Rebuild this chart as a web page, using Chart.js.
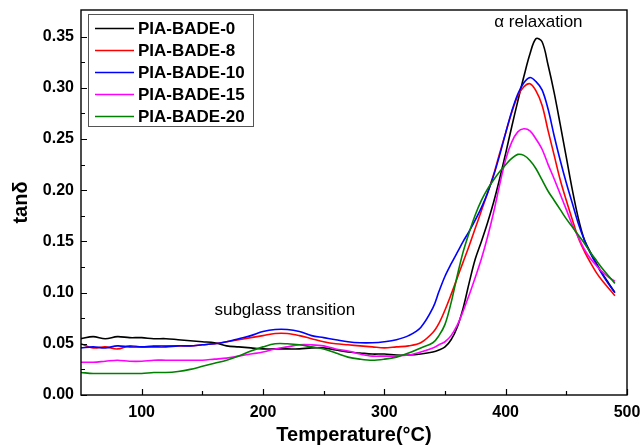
<!DOCTYPE html>
<html>
<head>
<meta charset="utf-8">
<style>
  body { margin: 0; background: #fff; }
  #wrap { width: 644px; height: 447px; }
</style>
</head>
<body>
<script src="https://cdn.jsdelivr.net/npm/chart.js@4.4.0/dist/chart.umd.min.js"></script>
<div id="wrap"><canvas id="dmaChart"></canvas></div>
<script>
  // temperature grid (degC), finer over the alpha peak
  const temps = [
    50, 60, 70, 80, 90, 100, 110, 120, 130, 140,
    150, 160, 170, 180, 190, 200, 210, 220, 230, 240,
    250, 260, 270, 280, 290, 300, 310, 320, 330, 340,
    345, 350, 355, 360, 365, 370, 375, 380, 385, 390,
    395, 400, 405, 410, 415, 420, 425, 430, 435, 440,
    445, 450, 455, 460, 465, 470, 475, 480, 485, 490
  ];

  const seriesNames = ["PIA-BADE-0", "PIA-BADE-8", "PIA-BADE-10", "PIA-BADE-15", "PIA-BADE-20"];
  const seriesColors = ["#000000", "#ff0000", "#0000ff", "#ff00ff", "#008000"];

  const tanD0 = [
    0.055, 0.057, 0.055, 0.057, 0.056, 0.056, 0.055, 0.055, 0.054, 0.053,
    0.052, 0.051, 0.048, 0.047, 0.046, 0.045, 0.045, 0.045, 0.045, 0.046,
    0.046, 0.044, 0.042, 0.041, 0.040, 0.040, 0.039, 0.039, 0.040, 0.042,
    0.044, 0.047, 0.054, 0.066, 0.085, 0.110, 0.133, 0.150, 0.168, 0.188,
    0.211, 0.236, 0.262, 0.287, 0.311, 0.333, 0.348, 0.345, 0.322, 0.295,
    0.264, 0.232, 0.200, 0.172, 0.151, 0.139, 0.128, 0.118, 0.109, 0.100
  ];
  const tanD8 = [
    0.050, 0.046, 0.047, 0.045, 0.048, 0.047, 0.048, 0.048, 0.048, 0.048,
    0.049, 0.050, 0.052, 0.054, 0.056, 0.058, 0.060, 0.060, 0.058, 0.055,
    0.052, 0.050, 0.049, 0.048, 0.047, 0.046, 0.047, 0.048, 0.051, 0.061,
    0.070, 0.083, 0.098, 0.114, 0.130, 0.146, 0.163, 0.180, 0.197, 0.215,
    0.236, 0.256, 0.276, 0.292, 0.301, 0.304, 0.297, 0.283, 0.258, 0.234,
    0.210, 0.190, 0.171, 0.153, 0.140, 0.129, 0.119, 0.111, 0.104, 0.097
  ];
  const tanD10 = [
    0.046, 0.047, 0.046, 0.048, 0.047, 0.047, 0.047, 0.047, 0.048, 0.048,
    0.049, 0.050, 0.052, 0.055, 0.058, 0.062, 0.064, 0.064, 0.062, 0.058,
    0.056, 0.054, 0.052, 0.051, 0.051, 0.052, 0.054, 0.058, 0.066, 0.085,
    0.101, 0.116, 0.128, 0.139, 0.150, 0.160, 0.171, 0.183, 0.197, 0.214,
    0.234, 0.256, 0.277, 0.294, 0.305, 0.310, 0.306, 0.298, 0.279, 0.253,
    0.229, 0.207, 0.187, 0.167, 0.151, 0.138, 0.127, 0.117, 0.108, 0.100
  ];
  const tanD15 = [
    0.032, 0.032, 0.033, 0.034, 0.033, 0.033, 0.034, 0.034, 0.034, 0.034,
    0.034, 0.035, 0.036, 0.038, 0.040, 0.042, 0.045, 0.047, 0.049, 0.049,
    0.048, 0.045, 0.043, 0.040, 0.038, 0.038, 0.038, 0.039, 0.042, 0.046,
    0.049, 0.052, 0.058, 0.068, 0.082, 0.098, 0.115, 0.133, 0.154, 0.178,
    0.205, 0.230, 0.247, 0.257, 0.260, 0.258, 0.250, 0.240, 0.225, 0.211,
    0.196, 0.181, 0.166, 0.154, 0.142, 0.133, 0.126, 0.120, 0.115, 0.111
  ];
  const tanD20 = [
    0.022, 0.021, 0.021, 0.021, 0.021, 0.021, 0.022, 0.022, 0.023, 0.025,
    0.028, 0.031, 0.034, 0.038, 0.043, 0.047, 0.050, 0.050, 0.049, 0.047,
    0.045, 0.041, 0.037, 0.035, 0.034, 0.035, 0.037, 0.041, 0.046, 0.051,
    0.058, 0.069, 0.090, 0.116, 0.140, 0.159, 0.176, 0.190, 0.201, 0.210,
    0.218, 0.225, 0.231, 0.235, 0.234, 0.229, 0.221, 0.210, 0.199, 0.190,
    0.181, 0.172, 0.164, 0.156, 0.148, 0.139, 0.131, 0.123, 0.116, 0.109
  ];

  // axis ticks
  const xTicks = [100, 200, 300, 400, 500];
  const xMinorTicks = [150, 250, 350, 450];
  const yTicks = [0, 0.05, 0.10, 0.15, 0.20, 0.25, 0.30, 0.35];
  const yMinorTicks = [0.025, 0.075, 0.125, 0.175, 0.225, 0.275, 0.325];

  const fontFamily = "'Liberation Sans', Arial, Helvetica, sans-serif";

  const allValues = [tanD0, tanD8, tanD10, tanD15, tanD20];

  // frame, inward ticks, legend box and the two labels
  const decorPlugin = {
    id: "decor",
    afterDatasetsDraw(chart) {
      const { ctx, chartArea: a, scales: { x, y } } = chart;
      ctx.save();
      ctx.strokeStyle = "#000";
      ctx.lineWidth = 1.4;
      ctx.strokeRect(a.left, a.top, a.right - a.left, a.bottom - a.top);

      ctx.lineWidth = 1.2;
      ctx.beginPath();
      xTicks.forEach(v => {
        const px = Math.round(x.getPixelForValue(v)) + 0.5;
        ctx.moveTo(px, a.bottom); ctx.lineTo(px, a.bottom - 6);
      });
      xMinorTicks.forEach(v => {
        const px = Math.round(x.getPixelForValue(v)) + 0.5;
        ctx.moveTo(px, a.bottom); ctx.lineTo(px, a.bottom - 4);
      });
      yTicks.forEach(v => {
        const py = Math.round(y.getPixelForValue(v)) + 0.5;
        ctx.moveTo(a.left, py); ctx.lineTo(a.left + 6, py);
      });
      yMinorTicks.forEach(v => {
        const py = Math.round(y.getPixelForValue(v)) + 0.5;
        ctx.moveTo(a.left, py); ctx.lineTo(a.left + 4, py);
      });
      ctx.stroke();

      // annotations
      ctx.fillStyle = "#000";
      ctx.font = "17px " + fontFamily;
      ctx.textAlign = "center";
      ctx.textBaseline = "middle";
      ctx.fillText("subglass transition", x.getPixelForValue(218), y.getPixelForValue(0.083));
      ctx.fillText("\u03b1 relaxation", x.getPixelForValue(427), y.getPixelForValue(0.364));

      // legend
      const lx = 88, ly = 14, lw = 165, lh = 112;
      ctx.fillStyle = "#fff";
      ctx.fillRect(lx, ly, lw, lh);
      ctx.strokeStyle = "#555";
      ctx.lineWidth = 1;
      ctx.strokeRect(lx + 0.5, ly + 0.5, lw, lh);
      ctx.font = "bold 17px " + fontFamily;
      ctx.textAlign = "left";
      chart.data.datasets.forEach((ds, i) => {
        const ry = 28.5 + i * 22;
        ctx.strokeStyle = ds.borderColor;
        ctx.lineWidth = 1.6;
        ctx.beginPath();
        ctx.moveTo(95, ry); ctx.lineTo(134, ry);
        ctx.stroke();
        ctx.fillStyle = "#000";
        ctx.fillText(ds.label, 138, ry + 1);
      });
      ctx.restore();
    }
  };

  const ctx = document.getElementById("dmaChart").getContext("2d");
  new Chart(ctx, {
    type: "line",
    data: {
      datasets: seriesNames.map((name, i) => ({
        label: name,
        data: temps.map((t, j) => ({ x: t, y: allValues[i][j] })),
        borderColor: seriesColors[i],
        borderWidth: 1.6,
        pointRadius: 0,
        fill: false,
        tension: 0.35,
        order: seriesNames.length - i
      }))
    },
    options: {
      responsive: true,
      maintainAspectRatio: false,
      animation: false,
      layout: { padding: { left: 0, right: 17, top: 10, bottom: 0 } },
      plugins: { legend: { display: false }, tooltip: { enabled: false } },
      scales: {
        x: {
          type: "linear",
          min: 50,
          max: 500,
          afterBuildTicks: s => { s.ticks = xTicks.map(v => ({ value: v })); },
          afterFit: s => { s.height = 52; s.paddingLeft = 0; s.paddingRight = 0; },
          grid: { display: false, drawTicks: false, tickLength: 0 },
          border: { display: false },
          ticks: {
            color: "#000",
            padding: 8,
            maxRotation: 0,
            font: { family: fontFamily, size: 16, weight: "bold" }
          },
          title: {
            display: true,
            text: "Temperature(\u00b0C)",
            color: "#000",
            padding: { top: 0, bottom: 0 },
            font: { family: fontFamily, size: 20, weight: "bold" }
          }
        },
        y: {
          type: "linear",
          min: 0,
          max: 0.376,
          afterBuildTicks: s => { s.ticks = yTicks.map(v => ({ value: v })); },
          afterFit: s => { s.width = 81; s.paddingTop = 0; s.paddingBottom = 0; },
          grid: { display: false, drawTicks: false, tickLength: 0 },
          border: { display: false },
          ticks: {
            color: "#000",
            padding: 7,
            font: { family: fontFamily, size: 16, weight: "bold" },
            callback: v => v.toFixed(2)
          },
          title: {
            display: true,
            text: "tan\u03b4",
            color: "#000",
            padding: { top: 9, bottom: 0 },
            font: { family: fontFamily, size: 20, weight: "bold" }
          }
        }
      }
    },
    plugins: [decorPlugin]
  });
</script>
</body>
</html>
